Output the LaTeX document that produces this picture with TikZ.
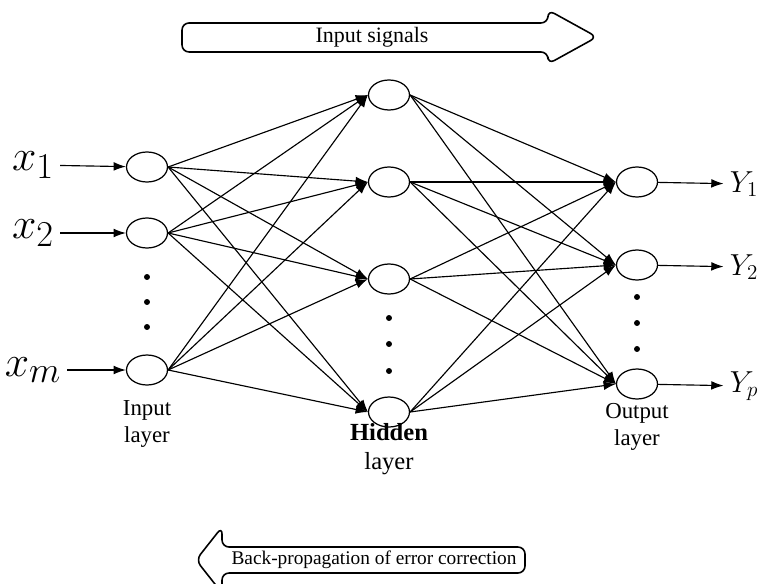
\documentclass[tikz,border=0pt]{standalone}
\usepackage{amsmath}
\usepackage{fontspec}
\setmainfont{Liberation Serif}
\usetikzlibrary{shapes.geometric,arrows.meta}

\tikzset{
	neuron/.style={draw, ellipse, minimum width=0.82cm, minimum height=0.6cm, inner sep=0pt, line width=0.7pt},
	link/.style={->, >={Latex[length=7pt,width=5pt]}, line width=0.65pt},
	vdot/.style={circle, fill, inner sep=0pt, minimum size=3.4pt},
	bigarrow/.style={draw, line width=0.9pt, rounded corners=4pt},
	layerlab/.style={align=center, font=\fontsize{13}{15.5}\selectfont},
}

\begin{document}
\begin{tikzpicture}[x=0.02cm, y=-0.02cm]
		\clip (0,0) rectangle (763,584);
		% signal arrows
		\draw[bigarrow] (597,37) -- (548,10) -- (548,23) -- (182,23) -- (182,52) -- (548,52) -- (548,64) -- cycle;
		\node (sig) at (372,37) {\fontsize{12.5}{14}\selectfont Input signals};
		\draw[bigarrow] (196,560) -- (222,527) -- (222,547) -- (525,547) -- (525,573) -- (222,573) -- (222,593) -- cycle;
		\node (bp) at (374,560) {\fontsize{11}{14}\selectfont Back-propagation of error correction};
		% input layer
		\node[neuron] (in1) at (147,167) {};
		\node[neuron] (in2) at (147,233) {};
		\node[neuron] (inm) at (147,370) {};
		\node[vdot] (ida) at (147,277) {};
		\node[vdot] (idb) at (147,302) {};
		\node[vdot] (idc) at (147,327) {};
		\node (x1) at (33,165) {\Huge $x_1$};
		\node (x2) at (33,233) {\Huge $x_2$};
		\node (xm) at (33,370) {\Huge $x_m$};
		\draw[link] (x1) -- (in1);
		\draw[link] (x2) -- (in2);
		\draw[link] (xm) -- (inm);
		\node[layerlab] (inlab) at (147,424) {Input\\layer};
		% hidden layer
		\node[neuron] (h1) at (389,95) {};
		\node[neuron] (h2) at (389,182) {};
		\node[neuron] (h3) at (389,279) {};
		\node[neuron] (hn) at (389,412) {};
		\node[vdot] (hda) at (389,318) {};
		\node[vdot] (hdb) at (389,344) {};
		\node[vdot] (hdc) at (389,371) {};
		\node[layerlab, font=\fontsize{14}{16.5}\selectfont] (hlab) at (389,449) {\textbf{Hidden}\\layer};
		% output layer
		\node[neuron] (o1) at (637,182) {};
		\node[neuron] (o2) at (637,265) {};
		\node[neuron] (op) at (637,384) {};
		\node[vdot] (oda) at (637,297) {};
		\node[vdot] (odb) at (637,323) {};
		\node[vdot] (odc) at (637,349) {};
		\node (y1) at (744,184) {\LARGE $Y_1$};
		\node (y2) at (744,267) {\LARGE $Y_2$};
		\node (yp) at (744,386) {\LARGE $Y_p$};
		\draw[link] (o1) -- (y1);
		\draw[link] (o2) -- (y2);
		\draw[link] (op) -- (yp);
		\node[layerlab] (olab) at (637,427) {Output\\layer};
		% input -> hidden
		\draw[link] (in1.east) -- (h1.west);
		\draw[link] (in1.east) -- (h2.west);
		\draw[link] (in1.east) -- (h3.west);
		\draw[link] (in1.east) -- (hn.west);
		\draw[link] (in2.east) -- (h1.west);
		\draw[link] (in2.east) -- (h2.west);
		\draw[link] (in2.east) -- (h3.west);
		\draw[link] (in2.east) -- (hn.west);
		\draw[link] (inm.east) -- (h1.west);
		\draw[link] (inm.east) -- (h2.west);
		\draw[link] (inm.east) -- (h3.west);
		\draw[link] (inm.east) -- (hn.west);
		% hidden -> output
		\draw[link] (h1.east) -- (o1.west);
		\draw[link] (h1.east) -- (o2.west);
		\draw[link] (h1.east) -- (op.west);
		\draw[link] (h2.east) -- (o1.west);
		\draw[link] (h2.east) -- (o2.west);
		\draw[link] (h2.east) -- (op.west);
		\draw[link] (h3.east) -- (o1.west);
		\draw[link] (h3.east) -- (o2.west);
		\draw[link] (h3.east) -- (op.west);
		\draw[link] (hn.east) -- (o1.west);
		\draw[link] (hn.east) -- (o2.west);
		\draw[link] (hn.east) -- (op.west);
\end{tikzpicture}
\end{document}
